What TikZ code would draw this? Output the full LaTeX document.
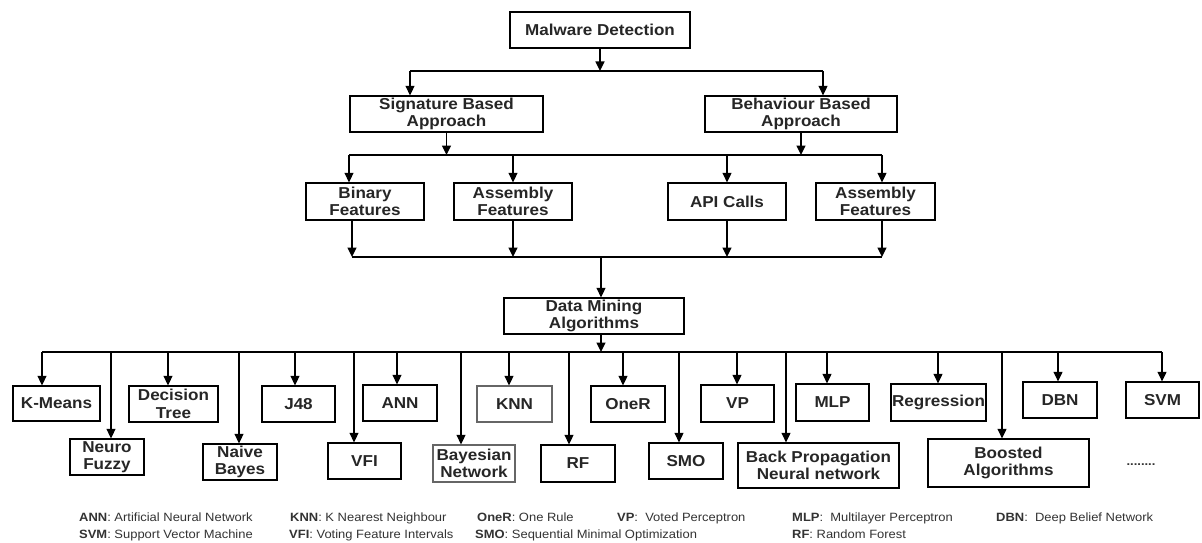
\documentclass[tikz,border=0pt]{standalone}
\usepackage{fontspec}
\setmainfont{Liberation Sans}[FakeStretch=1.08]
\usetikzlibrary{arrows.meta}
\newcommand{\bxfont}{\fontsize{15.8}{17.5}\selectfont\bfseries}
\newcommand{\lgfont}{\fontsize{12}{14}\selectfont}
\begin{document}
\begin{tikzpicture}[x=1pt,y=-1pt,
  box/.style={draw=black, line width=1.3pt, fill=white, inner sep=0pt, align=center, font=\bxfont, text=black!85},
  arr/.style={line width=1.3pt, -{Triangle[length=9.5pt,width=9pt]}},
  ln/.style={line width=1.3pt},
  lg/.style={anchor=base west, inner sep=0pt, font=\lgfont, text=black!80}]
\useasboundingbox[fill=white] (0,0) rectangle (1202,543);
% level 0
\node[box, minimum width=180pt, minimum height=36pt] (md) at (600,30) {Malware Detection};
% level 1
\node[box, minimum width=193pt, minimum height=36pt] (sig) at (446.5,114) {Signature Based\\Approach};
\node[box, minimum width=192pt, minimum height=36pt] (beh) at (801,114) {Behaviour Based\\Approach};
% level 2
\node[box, minimum width=118pt, minimum height=37pt] (bin) at (365,201.5) {Binary\\Features};
\node[box, minimum width=118pt, minimum height=37pt] (asma) at (513,201.5) {Assembly\\Features};
\node[box, minimum width=118pt, minimum height=37pt] (api) at (727,201.5) {API Calls};
\node[box, minimum width=119pt, minimum height=37pt] (asmb) at (875.5,201.5) {Assembly\\Features};
% level 3
\node[box, minimum width=180pt, minimum height=36pt] (dm) at (594,316) {Data Mining\\Algorithms};
% algorithms upper row
\node[box, minimum width=87pt, minimum height=35pt] (km) at (56.5,403.5) {K-Means};
\node[box, minimum width=89pt, minimum height=36pt] (dt) at (173.5,404) {Decision\\Tree};
\node[box, minimum width=73pt, minimum height=36pt] (j48) at (298.5,404) {J48};
\node[box, minimum width=74pt, minimum height=36pt] (ann) at (400,403) {ANN};
\node[box, minimum width=75pt, minimum height=36pt, draw=black!60] (knn) at (514.5,404) {KNN};
\node[box, minimum width=74pt, minimum height=36pt] (oner) at (628,404) {OneR};
\node[box, minimum width=73pt, minimum height=37pt] (vp) at (737.5,403.5) {VP};
\node[box, minimum width=73pt, minimum height=37pt] (mlp) at (832.5,402.5) {MLP};
\node[box, minimum width=95pt, minimum height=37pt] (reg) at (938.5,402.5) {Regression};
\node[box, minimum width=74pt, minimum height=36pt] (dbn) at (1060,400) {DBN};
\node[box, minimum width=73pt, minimum height=36pt] (svm) at (1162.5,400) {SVM};
% algorithms lower row
\node[box, minimum width=74pt, minimum height=36pt] (nf) at (107,457) {Neuro\\Fuzzy};
\node[box, minimum width=74pt, minimum height=36pt] (nb) at (240,462) {Naive\\Bayes};
\node[box, minimum width=73pt, minimum height=36pt] (vfi) at (364.5,461) {VFI};
\node[box, minimum width=82pt, minimum height=37pt, draw=black!60] (bn) at (474,463.5) {Bayesian\\Network};
\node[box, minimum width=74pt, minimum height=37pt] (rf) at (578,463.5) {RF};
\node[box, minimum width=74pt, minimum height=36pt] (smo) at (686,461) {SMO};
\node[box, minimum width=161pt, minimum height=45pt] (bp) at (818.5,465.5) {Back Propagation\\Neural network};
\node[box, minimum width=161pt, minimum height=48pt] (ba) at (1008.5,463) {Boosted\\Algorithms};
\node[inner sep=0pt, font=\lgfont\bfseries, text=black!80] (dots) at (1141,465) {........};
% connectors level 0 -> 1
\coordinate (s1L) at (410,71);
\coordinate (s1R) at (823,71);
\draw[arr] (md) -- (md |- s1L);
\draw[ln] (s1L) -- (s1R);
\draw[arr] (s1L) -- (s1L |- sig.north);
\draw[arr] (s1R) -- (s1R |- beh.north);
% level 1 -> 2
\coordinate (s2L) at (349,155);
\coordinate (s2a) at (513,155);
\coordinate (s2b) at (727,155);
\coordinate (s2R) at (882,155);
\draw[arr] (sig) -- (sig |- s2L);
\draw[arr] (beh) -- (beh |- s2L);
\draw[ln] (s2L) -- (s2R);
\draw[arr] (s2L) -- (s2L |- bin.north);
\draw[arr] (s2a) -- (s2a |- asma.north);
\draw[arr] (s2b) -- (s2b |- api.north);
\draw[arr] (s2R) -- (s2R |- asmb.north);
% level 2 -> 3
\coordinate (s3L) at (352,257);
\coordinate (s3R) at (882,257);
\coordinate (s3m) at (601,257);
\draw[arr] (bin.south -| s3L) -- (s3L);
\draw[arr] (asma) -- (asma |- s3L);
\draw[arr] (api) -- (api |- s3L);
\draw[arr] (asmb.south -| s3R) -- (s3R);
\draw[ln] (s3L) -- (s3R);
\draw[arr] (s3m) -- (s3m |- dm.north);
% level 3 -> algorithms
\coordinate (s4m) at (601,352);
\coordinate (s4L) at (42,352);
\coordinate (s4R) at (1162,352);
\draw[arr] (dm.south -| s4m) -- (s4m);
\draw[ln] (s4L) -- (s4R);
\foreach \n/\x in {km/42, nf/111, dt/168, nb/239, j48/295, vfi/354, ann/397, bn/461, knn/509, rf/569, oner/623, smo/679, vp/737, bp/786, mlp/827, reg/938, ba/1002, dbn/1058, svm/1162}{
  \coordinate (t\n) at (\x,352);
  \draw[arr] (t\n) -- (t\n |- \n.north);
}
% legend
\node[lg] (lga) at (79,521) {\textbf{ANN}: Artificial Neural Network};
\node[lg] (lgb) at (290,521) {\textbf{KNN}: K Nearest Neighbour};
\node[lg] (lgc) at (477,521) {\textbf{OneR}: One Rule};
\node[lg] (lgd) at (617,521) {\textbf{VP}:\ \ Voted Perceptron};
\node[lg] (lge) at (792,521) {\textbf{MLP}:\ \ Multilayer Perceptron};
\node[lg] (lgf) at (996,521) {\textbf{DBN}:\ \ Deep Belief Network};
\node[lg] (lgg) at (79,538) {\textbf{SVM}: Support Vector Machine};
\node[lg] (lgh) at (289,538) {\textbf{VFI}: Voting Feature Intervals};
\node[lg] (lgi) at (475,538) {\textbf{SMO}: Sequential Minimal Optimization};
\node[lg] (lgj) at (792,538) {\textbf{RF}: Random Forest};
\end{tikzpicture}
\end{document}
